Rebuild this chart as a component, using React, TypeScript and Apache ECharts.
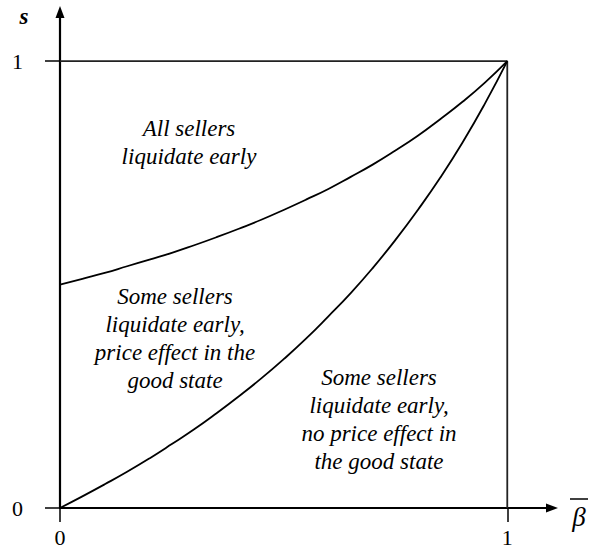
import React, { useEffect, useRef } from "react";
import * as echarts from "echarts";

const betaValues = [0, 0.05, 0.1, 0.15, 0.2, 0.25, 0.3, 0.35, 0.4, 0.45, 0.5, 0.55, 0.6, 0.65, 0.7, 0.75, 0.8, 0.85, 0.9, 0.95, 1];
const upperBoundary = [0.5, 0.513, 0.526, 0.541, 0.556, 0.571, 0.588, 0.606, 0.625, 0.645, 0.667, 0.69, 0.714, 0.741, 0.769, 0.8, 0.833, 0.87, 0.909, 0.952, 1];
const lowerBoundary = [0, 0.026, 0.053, 0.081, 0.111, 0.143, 0.176, 0.212, 0.25, 0.29, 0.333, 0.379, 0.429, 0.481, 0.538, 0.6, 0.667, 0.739, 0.818, 0.905, 1];
const boxCorners = [[0, 1], [1, 1], [1, 0]];
const xTickValues = [0, 1];
const yTickValues = [0, 1];
const regionTop = ["All sellers", "liquidate early"];
const regionMiddle = ["Some sellers", "liquidate early,", "price effect in the", "good state"];
const regionBottom = ["Some sellers", "liquidate early,", "no price effect in", "the good state"];

const FONT = "Liberation Serif";

export default function App() {
  const ref = useRef<HTMLDivElement>(null);
  useEffect(() => {
    if (!ref.current) return;
    document.body.style.margin = "0";
    const chart = echarts.init(ref.current, null, { renderer: "svg" });
    const regionText = (lines: string[], x: number, y: number) => ({
      type: "text",
      x,
      y,
      style: {
        text: lines.join("\n"),
        font: "italic 23px 'Liberation Serif'",
        fontFamily: FONT,
        fontStyle: "italic",
        fontSize: 23,
        lineHeight: 28,
        fill: "#000",
        align: "center",
        verticalAlign: "middle",
      },
    });
    chart.setOption({
      animation: false,
      backgroundColor: "#fff",
      grid: { left: 60, top: 12, width: 492, height: 496 },
      xAxis: {
        type: "value",
        min: 0,
        max: 1.1,
        splitLine: { show: false },
        axisLine: {
          show: true,
          lineStyle: { color: "#000", width: 2.2 },
          symbol: ["none", "triangle"],
          symbolSize: [9, 12],
        },
        axisTick: { show: true, customValues: xTickValues, length: 14, lineStyle: { color: "#000", width: 1.5 } },
        axisLabel: {
          customValues: xTickValues,
          margin: 18,
          fontFamily: FONT,
          fontSize: 22,
          color: "#000",
        },
      },
      yAxis: {
        type: "value",
        min: 0,
        max: 1.11,
        splitLine: { show: false },
        axisLine: {
          show: true,
          lineStyle: { color: "#000", width: 2.2 },
          symbol: ["none", "triangle"],
          symbolSize: [9, 12],
        },
        axisTick: { show: true, customValues: yTickValues, length: 15, lineStyle: { color: "#000", width: 1.5 } },
        axisLabel: {
          customValues: yTickValues,
          margin: 37,
          fontFamily: FONT,
          fontSize: 22,
          color: "#000",
        },
      },
      series: [
        {
          type: "line",
          data: boxCorners,
          showSymbol: false,
          lineStyle: { color: "#222", width: 1.8 },
          silent: true,
        },
        {
          type: "line",
          data: betaValues.map((b, i) => [b, upperBoundary[i]]),
          showSymbol: false,
          smooth: true,
          lineStyle: { color: "#000", width: 1.8 },
          silent: true,
        },
        {
          type: "line",
          data: betaValues.map((b, i) => [b, lowerBoundary[i]]),
          showSymbol: false,
          smooth: true,
          lineStyle: { color: "#000", width: 1.8 },
          silent: true,
        },
      ],
      graphic: [
        regionText(regionTop, 189, 142),
        regionText(regionMiddle, 175, 338),
        regionText(regionBottom, 379, 419),
        {
          type: "text",
          x: 24,
          y: 16,
          style: {
            text: "s",
            font: "italic bold 23px 'Liberation Serif'",
            fontFamily: FONT,
            fontStyle: "italic",
            fontWeight: "bold",
            fontSize: 23,
            fill: "#000",
            align: "center",
            verticalAlign: "middle",
          },
        },
        {
          type: "text",
          x: 579,
          y: 517,
          style: {
            text: "β",
            font: "italic 27px 'Liberation Serif'",
            fontFamily: FONT,
            fontStyle: "italic",
            fontSize: 27,
            fill: "#000",
            align: "center",
            verticalAlign: "middle",
          },
        },
        {
          type: "line",
          shape: { x1: 570, y1: 499, x2: 588, y2: 499 },
          style: { stroke: "#000", lineWidth: 1.5 },
        },
      ],
    });
    return () => chart.dispose();
  }, []);
  return <div ref={ref} style={{ width: 590, height: 553 }} />;
}
